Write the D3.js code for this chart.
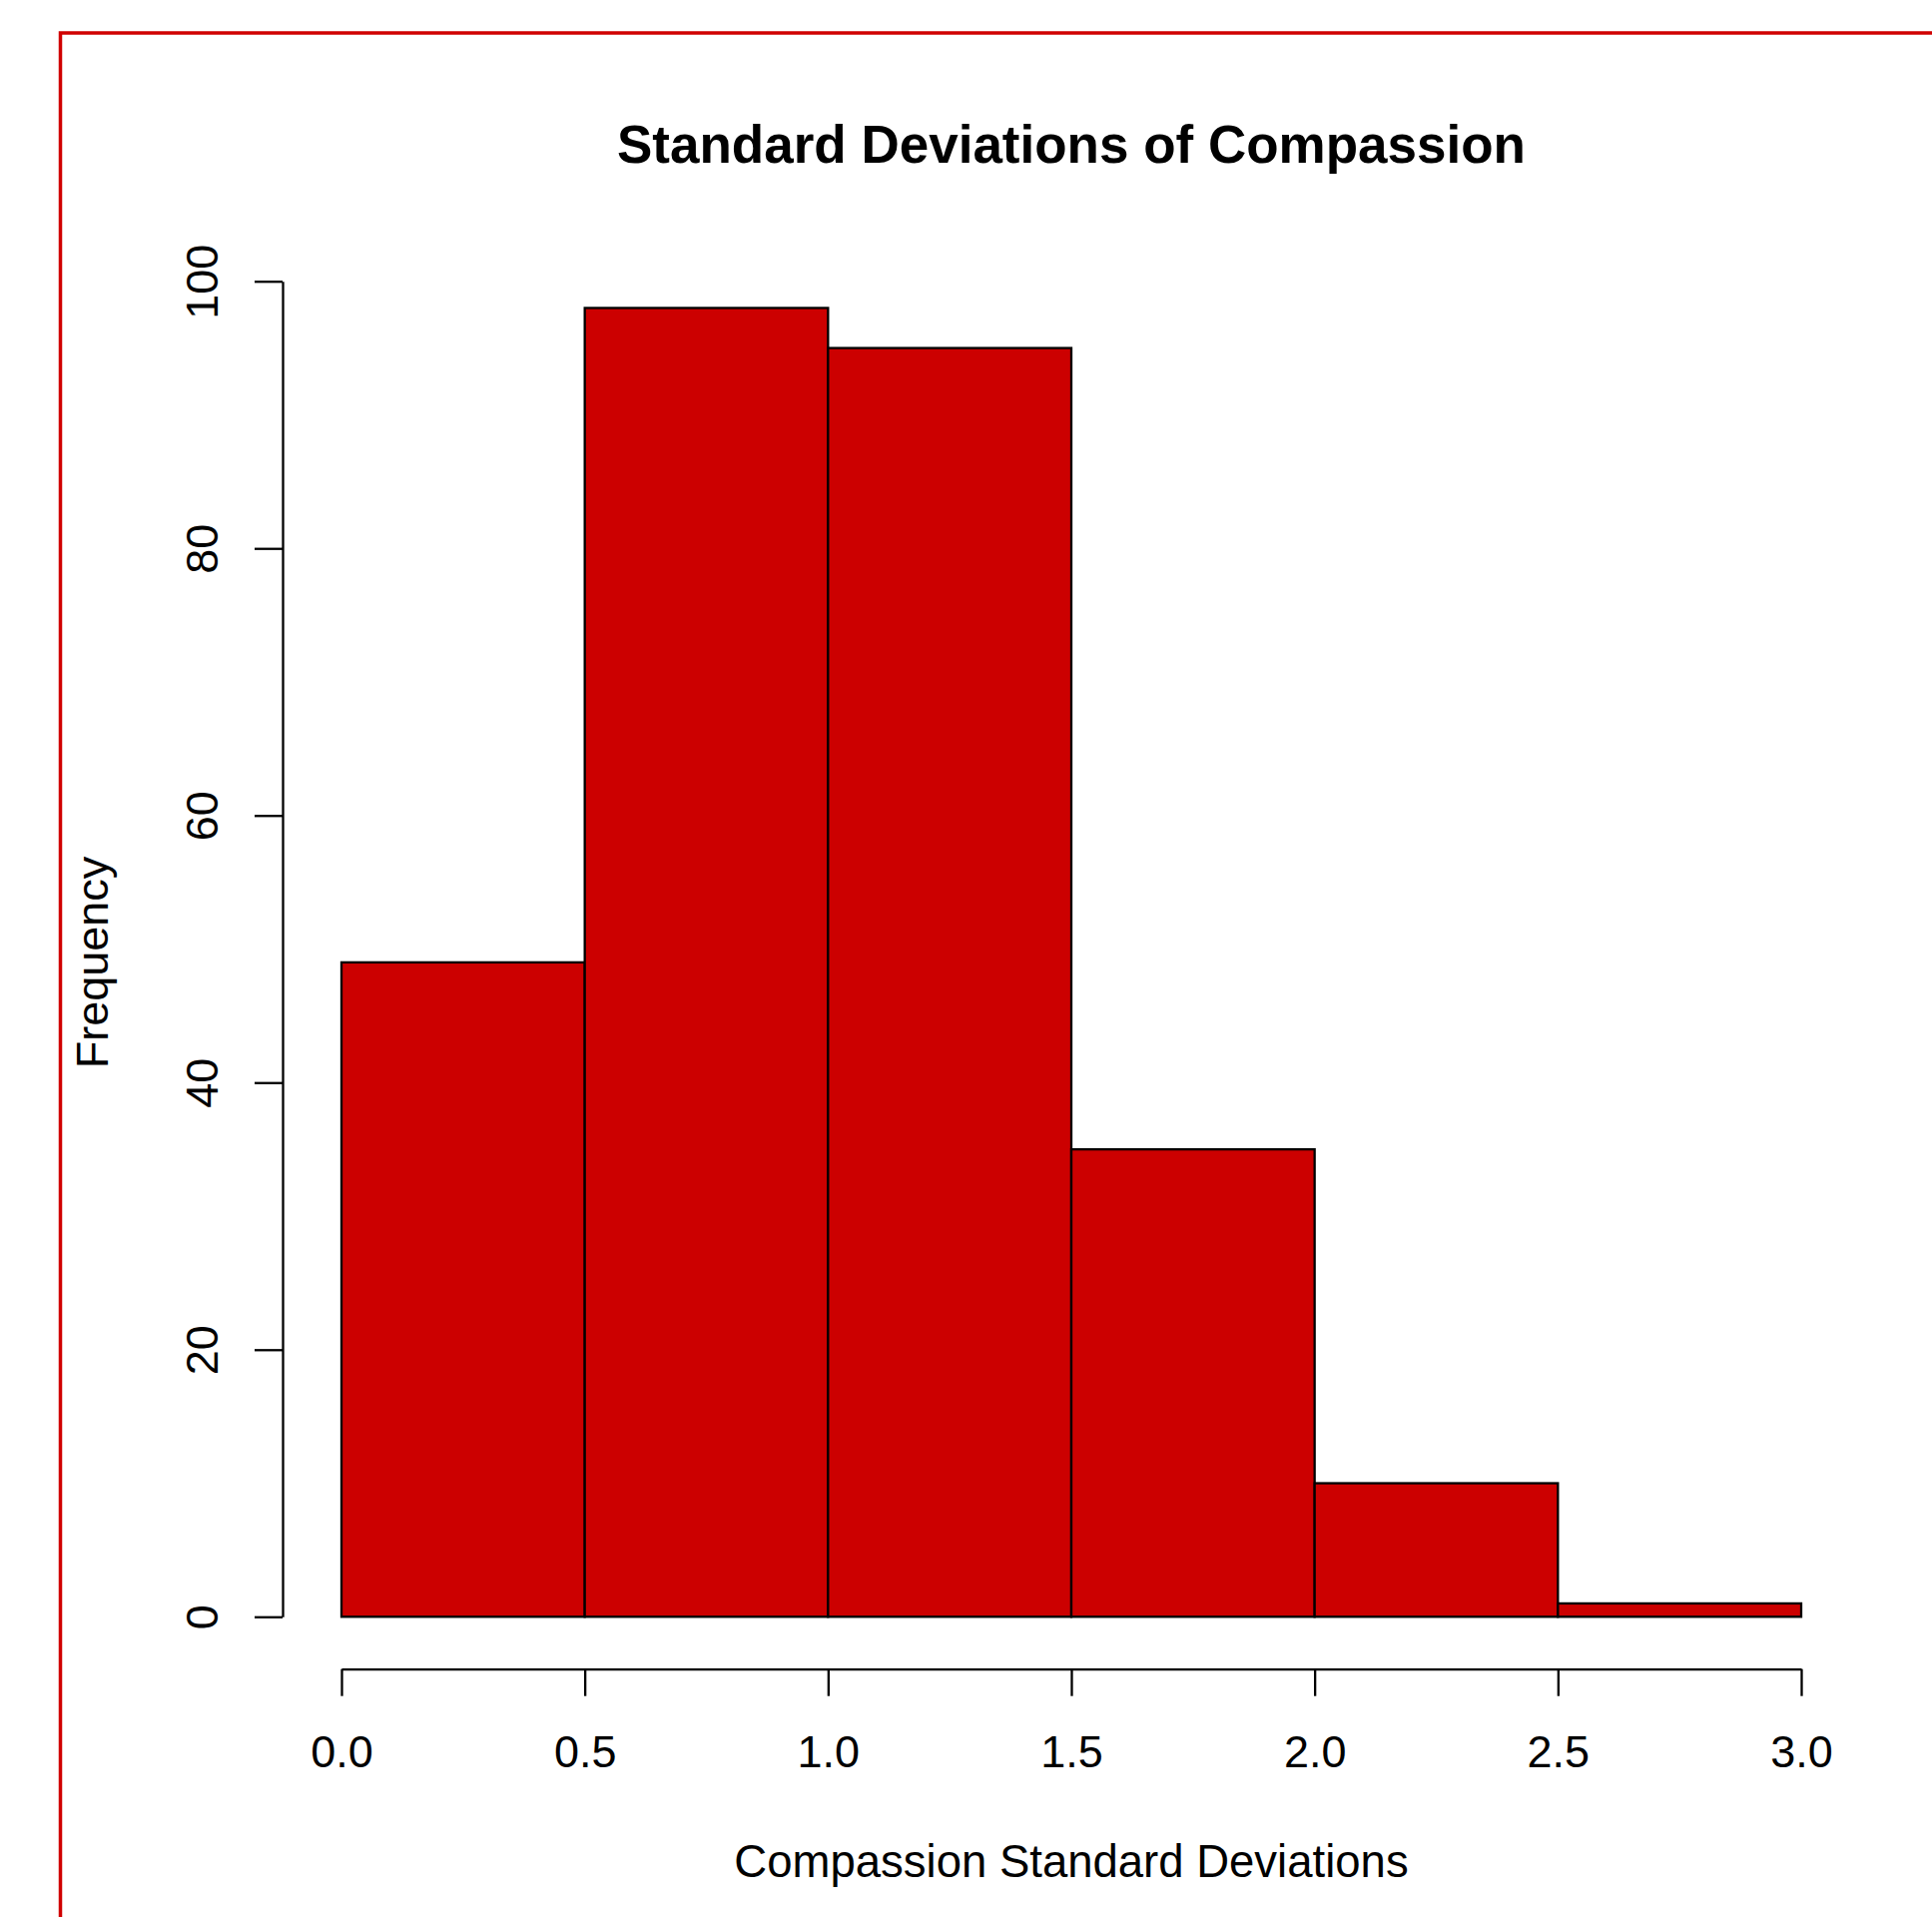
<!DOCTYPE html>
<html>
<head>
<meta charset="utf-8">
<script src="https://cdn.jsdelivr.net/npm/d3@7"></script>
<style>
  html, body { margin: 0; padding: 0; background: #fff; }
  svg { display: block; }
  text { font-family: "Liberation Sans", Arial, Helvetica, sans-serif; fill: #000; }
</style>
</head>
<body>
<svg id="chart" width="1935" height="1920"></svg>
<script>
// ---- data ----
const binStarts = [0.0, 0.5, 1.0, 1.5, 2.0, 2.5];
const binWidth = 0.5;
const counts = [49, 98, 95, 35, 10, 1];
const xTicks = [0.0, 0.5, 1.0, 1.5, 2.0, 2.5, 3.0];
const yTicks = [0, 20, 40, 60, 80, 100];
const title = "Standard Deviations of Compassion";
const xTitle = "Compassion Standard Deviations";
const yTitle = "Frequency";

const svg = d3.select("#chart");

// outer red frame (extends beyond the viewport on right/bottom)
svg.append("rect")
  .attr("x", 60.5).attr("y", 33)
  .attr("width", 3000).attr("height", 3000)
  .attr("fill", "none").attr("stroke", "#d00000").attr("stroke-width", 3.5);

const x = d3.scaleLinear().domain([0, 3]).range([342, 1804]);
const y = d3.scaleLinear().domain([0, 100]).range([1619.3, 281.7]);

// bars
svg.append("g").selectAll("rect")
  .data(counts)
  .join("rect")
  .attr("x", (d, i) => x(binStarts[i]))
  .attr("width", (d, i) => x(binStarts[i] + binWidth) - x(binStarts[i]))
  .attr("y", d => y(d))
  .attr("height", d => y(0) - y(d))
  .attr("fill", "#cc0000")
  .attr("stroke", "#000")
  .attr("stroke-width", 2.3);

// y axis
const yAxis = svg.append("g")
  .attr("transform", "translate(283,0)")
  .call(d3.axisLeft(y).tickValues(yTicks).tickSize(28).tickSizeOuter(0).tickFormat(d3.format("d")));
yAxis.selectAll("path, line").attr("stroke", "#000").attr("stroke-width", 2.3);
yAxis.selectAll("text")
  .attr("x", null).attr("dy", null)
  .attr("transform", "translate(-65,0) rotate(-90)")
  .attr("text-anchor", "middle")
  .style("font-size", "45px")
  .style("font-family", "'Liberation Sans', Arial, sans-serif")
  .attr("fill", "#000");

// x axis
const xAxis = svg.append("g")
  .attr("transform", "translate(0,1671.7)")
  .call(d3.axisBottom(x).tickValues(xTicks).tickSize(27).tickSizeOuter(0).tickFormat(d3.format(".1f")));
xAxis.selectAll("path, line").attr("stroke", "#000").attr("stroke-width", 2.3);
xAxis.selectAll("text")
  .attr("y", 98.3).attr("dy", null)
  .style("font-size", "45px")
  .style("font-family", "'Liberation Sans', Arial, sans-serif")
  .attr("fill", "#000");

// titles
svg.append("text")
  .attr("x", 1073).attr("y", 163)
  .attr("text-anchor", "middle")
  .style("font-size", "53px").style("font-weight", "bold")
  .text(title);

svg.append("text")
  .attr("x", 1073).attr("y", 1880)
  .attr("text-anchor", "middle")
  .style("font-size", "45.5px")
  .text(xTitle);

svg.append("text")
  .attr("transform", "translate(108,964) rotate(-90)")
  .attr("text-anchor", "middle")
  .style("font-size", "45px")
  .text(yTitle);
</script>
</body>
</html>
